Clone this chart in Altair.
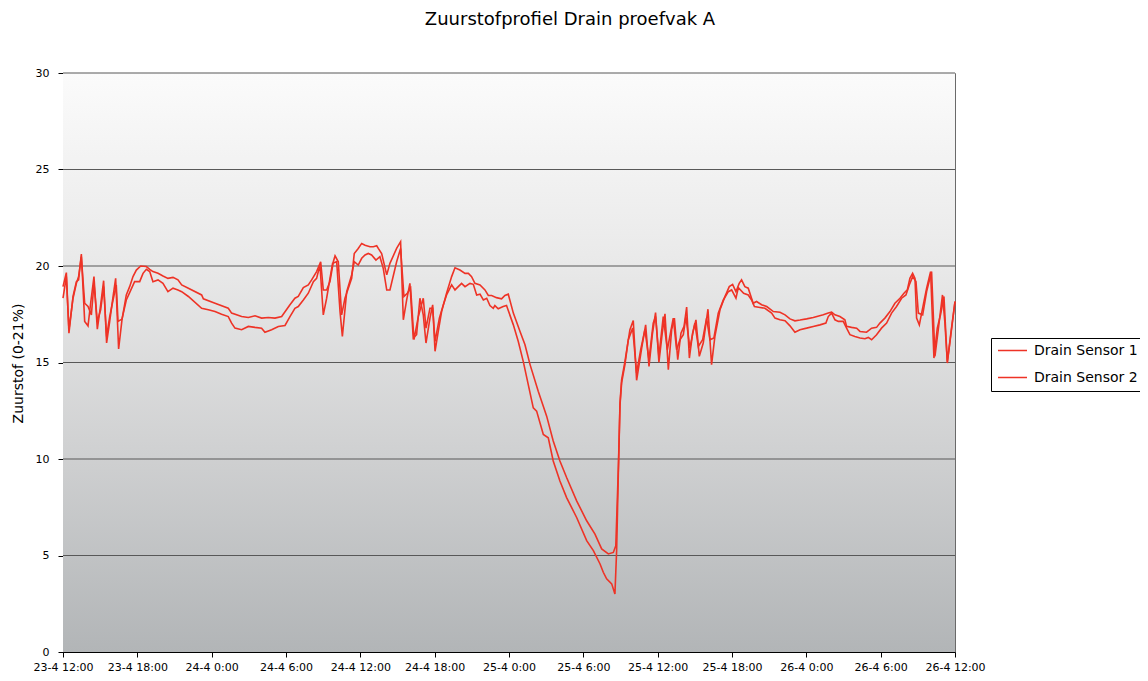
import json
import altair as alt
import pandas as pd

# ---- data (hours after 23-4 12:00, oxygen %) ----
s1_hours = [0, 0.27, 0.48, 0.81, 1.08, 1.26, 1.48, 1.75, 2.02, 2.23, 2.5, 2.77, 3.04, 3.28, 3.52, 3.77, 4.04, 4.25, 4.49, 4.76,
            5.11, 5.38, 5.65, 5.92, 6.27, 6.73, 7.0, 7.26, 7.67, 8.07, 8.47, 8.88, 9.28,
            9.58, 10.12, 11.19, 11.33, 12.27, 13.34, 13.61, 14.42, 14.96, 15.5, 16.03, 16.57, 17.11, 17.65,
            18.32, 18.72, 18.99, 19.4, 19.8, 20.07, 20.47, 20.8, 21.01, 21.28, 21.55, 21.82, 21.96, 22.22, 22.49, 22.76,
            23.3, 23.51, 23.83, 24.11, 24.38, 24.78, 25.05, 25.32, 25.45, 25.72, 26.13, 26.39, 26.93, 27.25, 27.47, 27.74,
            28.0, 28.27, 28.54, 28.81, 29.08, 29.3, 29.62, 29.84, 30.03, 30.29, 30.56, 30.96,
            31.37, 31.64, 32.04, 32.45, 32.72, 32.98, 33.25, 33.66, 34.06, 34.33, 34.6, 34.99, 35.4, 35.67, 35.94,
            36.35, 36.89, 37.29, 37.7, 38.36, 39.04, 39.57, 40.11, 40.65, 41.46, 42.27, 42.94, 43.48, 44.02, 44.42,
            44.62, 44.83, 44.96, 45.09,
            45.36, 45.76, 46.03, 46.3, 46.71, 47.03, 47.3, 47.57, 47.83, 48.1, 48.37, 48.59, 48.86, 49.13, 49.35, 49.62,
            49.88, 50.13, 50.34, 50.56, 50.82, 51.09, 51.36, 51.68, 52.06, 52.35, 52.62, 53.03, 53.43, 53.78,
            54.05, 54.32, 54.58, 54.77, 55.04, 55.31, 55.71, 55.98, 56.39, 56.8, 57.34,
            57.87, 58.28, 58.68, 59.08, 59.49, 60.02, 60.56, 61.37, 61.77, 62.04, 62.31, 62.71, 63.11, 63.25, 63.65,
            64.06, 64.33, 64.86, 65.27, 65.67, 65.94, 66.34, 66.75, 67.15, 67.56, 67.88, 68.15, 68.36, 68.58, 68.77,
            68.9, 69.12, 69.44, 69.71, 70.03, 70.3, 70.57, 70.84, 71.11, 71.38, 71.65, 72.0]
s1_values = [18.93, 19.66, 16.52, 18.42, 19.19, 19.28, 20.62, 17.13, 16.9, 18.07, 19.45, 16.73, 17.99, 19.24, 16.01, 17.13, 18.42, 19.36, 15.7, 17.21,
             18.5, 18.93, 19.45, 19.79, 20.0, 19.97, 19.83, 19.71, 19.62, 19.48, 19.36, 19.41, 19.28,
             19.02, 18.85, 18.5, 18.3, 18.07, 17.81, 17.56, 17.38, 17.33, 17.42, 17.3, 17.33, 17.3, 17.38,
             17.99, 18.33, 18.42, 18.88, 19.02, 19.28, 19.71, 20.22, 18.76, 18.76, 19.19, 20.22, 20.53, 20.22, 17.47, 18.33,
             19.36, 20.65, 20.91, 21.17, 21.08, 21.0, 21.0, 21.05, 20.91, 20.65, 19.54, 20.14, 20.91, 21.26, 17.21, 18.24,
             19.1, 16.27, 16.44, 18.33, 17.47, 16.01, 17.3, 17.99, 15.58, 16.61, 17.64, 18.59,
             19.45, 19.91, 19.79, 19.62, 19.62, 19.45, 19.1, 19.02, 18.76, 18.47, 18.47, 18.36, 18.3, 18.47, 18.54,
             17.56, 16.61, 15.92, 14.89, 13.51, 12.22, 10.93, 9.9, 9.04, 7.83, 6.8, 6.11, 5.34, 5.08, 5.16,
             5.5, 9.6, 12.9, 14.1,
             15.06, 16.7, 17.18, 14.08, 15.75, 16.95, 14.8, 16.44, 17.59, 15.01, 16.52, 17.52, 14.63, 16.7, 17.3, 15.15,
             16.52, 16.87, 17.87, 15.23, 16.52, 17.21, 15.32, 16.01, 17.76, 14.89, 16.35, 17.73, 18.42, 18.93,
             19.05, 18.67, 19.1, 19.28, 18.93, 18.85, 18.07, 18.16, 17.99, 17.9, 17.64,
             17.6, 17.47, 17.26, 17.16, 17.2, 17.26, 17.33, 17.47, 17.56, 17.61, 17.47, 17.38, 17.21, 16.87, 16.82,
             16.78, 16.61, 16.57, 16.78, 16.82, 17.04, 17.3, 17.64, 18.07, 18.33, 18.59, 18.76, 19.36, 19.62, 19.36,
             17.3, 16.95, 17.99, 18.85, 19.71, 15.23, 16.78, 17.5, 18.42, 14.97, 16.44, 18.16]

s2_hours = [0, 0.27, 0.48, 0.81, 1.08, 1.26, 1.48, 1.75, 2.02, 2.29, 2.5, 2.77, 3.04, 3.28, 3.52, 3.77, 4.04, 4.3, 4.44, 4.76,
            5.11, 5.38, 5.78, 6.19, 6.46, 6.73, 7.0, 7.26, 7.67, 8.07, 8.47, 8.88, 9.28,
            9.58, 10.12, 11.19, 11.73, 12.27, 12.8, 13.34, 13.61, 13.88, 14.42, 14.96, 15.5, 16.03, 16.3, 16.84, 17.38, 17.92,
            18.32, 18.72, 18.99, 19.4, 19.8, 20.21, 20.47, 20.74, 21.01, 21.28, 21.55, 21.76, 22.09, 22.36, 22.55, 22.9,
            23.3, 23.51, 23.83, 24.11, 24.38, 24.64, 24.91, 25.26, 25.58, 25.85, 26.13, 26.39, 26.93, 27.25, 27.52, 27.79,
            28.06, 28.33, 28.68, 29.08, 29.3, 29.62, 29.84, 30.03, 30.38, 30.7, 30.96,
            31.37, 31.64, 32.17, 32.45, 32.85, 33.12, 33.39, 33.66, 33.93, 34.2, 34.46, 34.73, 34.86, 35.13, 35.53, 35.8,
            36.35, 36.75, 37.15, 37.96, 38.23, 38.77, 39.17, 39.57, 40.11, 40.65, 41.46, 42.27, 42.81, 43.35, 43.61,
            43.88, 44.29, 44.55, 44.69, 44.83, 44.96, 45.09,
            45.36, 45.63, 45.98, 46.3, 46.63, 46.97, 47.3, 47.64, 47.83, 48.1, 48.45, 48.78, 49.26, 49.53, 49.8, 50.07,
            50.28, 50.6, 51.0, 51.28, 51.63, 51.95, 52.22, 52.54, 52.89, 53.3, 53.7,
            53.97, 54.32, 54.51, 54.94, 55.31, 55.58, 55.81, 56.26, 56.66, 57.2, 57.47,
            57.87, 58.28, 58.68, 59.08, 59.49, 60.02, 60.56, 61.1, 61.58, 61.77, 62.04, 62.31, 62.58, 62.98, 63.25,
            63.52, 63.92, 64.33, 64.73, 65.0, 65.27, 65.67, 66.07, 66.48, 66.88, 67.28, 67.69, 68.04, 68.31, 68.58,
            68.85, 69.04, 69.39, 69.71, 70.11, 70.38, 70.65, 70.99, 71.18, 71.38, 71.6, 72.0]
s2_values = [18.33, 19.45, 16.7, 18.33, 19.1, 19.45, 20.48, 18.07, 17.9, 17.47, 19.1, 17.13, 17.73, 18.93, 16.35, 17.38, 18.24, 19.02, 17.13, 17.25,
             18.24, 18.62, 19.19, 19.19, 19.62, 19.83, 19.71, 19.19, 19.28, 19.1, 18.67, 18.85, 18.76,
             18.67, 18.42, 17.81, 17.73, 17.64, 17.5, 17.38, 17.04, 16.78, 16.7, 16.87, 16.82, 16.78, 16.57, 16.7, 16.87, 16.92,
             17.38, 17.81, 17.9, 18.24, 18.59, 19.19, 19.36, 20.05, 17.47, 18.33, 19.36, 20.14, 20.22, 17.64, 16.35, 18.67,
             19.54, 20.22, 20.05, 20.4, 20.57, 20.65, 20.57, 20.31, 20.48, 19.88, 18.76, 18.76, 20.22, 20.91, 18.42, 18.59,
             18.85, 16.18, 17.38, 18.33, 16.78, 17.81, 17.81, 16.09, 17.3, 17.99, 18.5,
             19.02, 18.76, 19.1, 18.93, 19.1, 19.05, 18.5, 18.54, 18.24, 18.33, 17.95, 17.81, 17.95, 17.78, 17.9, 17.95,
             16.95, 16.09, 15.06, 12.65, 12.48, 11.27, 11.1, 9.9, 8.86, 8.0, 6.97, 5.77, 5.25, 4.56, 4.13,
             3.79, 3.53, 3.01, 5.3, 9.4, 12.8, 13.94,
             14.9, 16.18, 16.78, 14.46, 15.66, 16.7, 15.15, 17.04, 17.38, 15.32, 17.38, 15.66, 17.3, 15.66, 16.18, 16.44,
             17.38, 15.75, 17.04, 15.83, 16.18, 17.3, 16.18, 16.27, 17.56, 18.24, 18.67,
             18.76, 18.33, 18.88, 18.59, 18.5, 18.24, 17.9, 17.85, 17.81, 17.56, 17.3,
             17.21, 17.16, 16.9, 16.57, 16.7, 16.78, 16.87, 16.95, 17.04, 17.38, 17.56, 17.21, 17.13, 17.13, 16.78,
             16.44, 16.35, 16.27, 16.23, 16.3, 16.18, 16.44, 16.78, 17.04, 17.56, 17.9, 18.33, 18.5, 19.02, 19.45,
             19.19, 17.56, 17.47, 18.67, 19.71, 15.32, 16.7, 18.5, 17.1, 15.06, 16.09, 18.16]

series_names = ["Drain Sensor 1", "Drain Sensor 2"]
tick_hours = list(range(0, 73, 6))
tick_labels = ["23-4 12:00", "23-4 18:00", "24-4 0:00", "24-4 6:00", "24-4 12:00", "24-4 18:00",
               "25-4 0:00", "25-4 6:00", "25-4 12:00", "25-4 18:00", "26-4 0:00", "26-4 6:00", "26-4 12:00"]
y_ticks = [0, 5, 10, 15, 20, 25, 30]
grid_values = [5, 10, 15, 20, 25, 30]

df = pd.concat([
    pd.DataFrame({"uur": s1_hours, "waarde": s1_values, "reeks": series_names[0], "ord": range(len(s1_hours))}),
    pd.DataFrame({"uur": s2_hours, "waarde": s2_values, "reeks": series_names[1], "ord": range(len(s2_hours))}),
])

W, H = 892, 579
FONT = "DejaVu Sans"
RED = "#ee3326"

label_expr = json.dumps(tick_labels) + "[round(datum.value / 6)]"

bg = alt.Chart(pd.DataFrame({"a": [0]})).mark_rect(
    color=alt.Gradient(
        gradient="linear", x1=0, y1=0, x2=0, y2=1,
        stops=[alt.GradientStop(color="#fbfbfb", offset=0),
               alt.GradientStop(color="#e9e9e9", offset=0.33),
               alt.GradientStop(color="#cfd0d1", offset=0.66),
               alt.GradientStop(color="#b2b5b7", offset=1)]),
).encode(x=alt.value(0), x2=alt.value(W), y=alt.value(0), y2=alt.value(H))

grid = alt.Chart(pd.DataFrame({"g": grid_values})).mark_rule(
    color="#585858", strokeWidth=1.2
).encode(y=alt.Y("g:Q", scale=alt.Scale(domain=[0, 30], nice=False)))

lines = alt.Chart(df).mark_line(strokeWidth=1.6).encode(
    x=alt.X("uur:Q", scale=alt.Scale(domain=[0, 72], nice=False),
            axis=alt.Axis(values=tick_hours, labelExpr=label_expr, title=None, grid=False,
                          tickColor="black", tickSize=5, domainColor="black",
                          labelFont=FONT, labelFontSize=11, labelColor="black", labelPadding=4,
                          labelFlush=False, labelOverlap=False, labelBound=False)),
    y=alt.Y("waarde:Q", scale=alt.Scale(domain=[0, 30], nice=False),
            axis=alt.Axis(values=y_ticks, title="Zuurstof (0-21%)", grid=False,
                          tickColor="black", tickSize=5, domainColor="black",
                          labelFont=FONT, labelFontSize=11, labelColor="black", labelPadding=9,
                          titleFont=FONT, titleFontSize=14, titleFontWeight="normal", titleColor="black",
                          titleX=-45, titleY=290, titleAlign="center", titleBaseline="middle")),
    color=alt.Color("reeks:N", scale=alt.Scale(domain=series_names, range=[RED, RED]),
                    legend=alt.Legend(title=None, orient="none", legendX=928, legendY=265,
                                      strokeColor="black", fillColor="white", padding=6,
                                      symbolType="stroke", symbolSize=841, symbolStrokeWidth=1.5,
                                      clipHeight=13, rowPadding=12, labelOffset=6,
                                      labelFont=FONT, labelFontSize=14, labelColor="black")),
    order="ord:Q",
)

chart = alt.layer(bg, grid, lines).properties(
    width=W, height=H,
    title=alt.TitleParams(text="Zuurstofprofiel Drain proefvak A", font=FONT, fontSize=18,
                          fontWeight="normal", color="black", anchor="middle", dx=61, offset=24,
                          baseline="alphabetic"),
    autosize=alt.AutoSizeParams(type="none"),
    padding={"left": 55, "top": 65, "right": 185, "bottom": 21},
).configure_view(stroke="#6a6a6a", strokeWidth=1)

chart.save("out.html", embed_options={"renderer": "svg", "actions": False})
